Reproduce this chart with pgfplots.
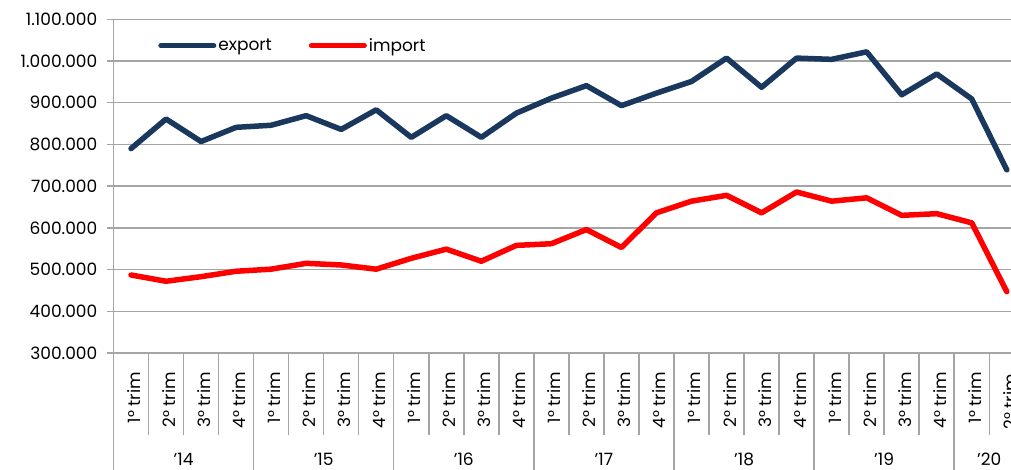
\documentclass[border=0pt]{standalone}
\usepackage{fontspec}
\setmainfont{Poppins}
\usepackage{pgfplots}
\pgfplotsset{compat=1.18}
\definecolor{exportc}{RGB}{26,56,94}
\definecolor{importc}{RGB}{255,0,0}
\definecolor{gridc}{RGB}{165,165,165}
\begin{document}
\begin{tikzpicture}[font=\fontsize{17}{20}\selectfont]
\clip (-113.5pt,-116pt) rectangle (897.5pt,353pt);
\begin{axis}[
  at={(0pt,0pt)}, anchor=south west,
  scale only axis, width=910.8pt, height=333.7pt,
  xmin=-0.5, xmax=25.5, ymin=300000, ymax=1100000,
  clip=false,
  scaled y ticks=false,
  /pgf/number format/assume math mode=true,
  axis lines*=left,
  axis line style={gridc, line width=1.5pt, -},
  ytick={300000,400000,500000,600000,700000,800000,900000,1000000,1100000},
  yticklabels={300.000,400.000,500.000,600.000,700.000,800.000,900.000,1.000.000,1.100.000},
  ymajorgrids, grid style={gridc, line width=1.5pt},
  tick align=outside, major tick length=6pt,
  ytick style={gridc, line width=1.5pt},
  xtick style={draw=none},
  tick label style={font=\fontsize{17}{20}\selectfont},
  yticklabel style={inner sep=0pt, anchor=east, xshift=-10pt},
  xtick={0,...,25},
  xticklabels={1° trim,2° trim,3° trim,4° trim,1° trim,2° trim,3° trim,4° trim,1° trim,2° trim,3° trim,4° trim,1° trim,2° trim,3° trim,4° trim,1° trim,2° trim,3° trim,4° trim,1° trim,2° trim,3° trim,4° trim,1° trim,},
  xticklabel style={yshift=-13pt, xshift=3pt, rotate=90, anchor=east, inner sep=0pt},
  legend columns=2,
  legend style={at={(axis description cs:0.049,0.921)}, anchor=west, draw=none, fill=none, inner sep=0pt,
    font=\fontsize{17}{20}\selectfont,
    /tikz/every even column/.append style={column sep=35pt}},
  legend image code/.code={\draw[#1, line width=5pt, line cap=round] (0pt,0pt) -- (53pt,0pt);},
]
\addplot[exportc, line width=5.5pt, line join=round, line cap=round] coordinates {
(0,790000) (1,861000) (2,807000) (3,841000) (4,846000) (5,869000) (6,836000) (7,883000)
(8,817000) (9,869000) (10,817000) (11,875000) (12,911000) (13,941000) (14,893000) (15,923000)
(16,951000) (17,1007000) (18,937000) (19,1007000) (20,1004000) (21,1022000) (22,919000) (23,969000)
(24,909000) (25,739000)};
\addlegendentry{export}
\addplot[importc, line width=5.5pt, line join=round, line cap=round] coordinates {
(0,487000) (1,472000) (2,483000) (3,496000) (4,501000) (5,515000) (6,511000) (7,501000)
(8,527000) (9,549000) (10,520000) (11,558000) (12,562000) (13,596000) (14,553000) (15,636000)
(16,664000) (17,678000) (18,636000) (19,686000) (20,664000) (21,672000) (22,630000) (23,634000)
(24,612000) (25,447000)};
\addlegendentry{import}
\pgfplotsinvokeforeach{0.5,1.5,2.5,4.5,5.5,6.5,8.5,9.5,10.5,12.5,13.5,14.5,16.5,17.5,18.5,20.5,21.5,22.5,24.5}{
  \draw[gridc, line width=1.5pt] (axis cs:#1,300000) -- ++(0pt,-82pt);
}
\pgfplotsinvokeforeach{-0.5,3.5,7.5,11.5,15.5,19.5,23.5}{
  \draw[gridc, line width=1.5pt] (axis cs:#1,300000) -- ++(0pt,-125pt);
}
\node at (axis cs:1.5,300000) [yshift=-106pt] {’14};
\node at (axis cs:5.5,300000) [yshift=-106pt] {’15};
\node at (axis cs:9.5,300000) [yshift=-106pt] {’16};
\node at (axis cs:13.5,300000) [yshift=-106pt] {’17};
\node at (axis cs:17.5,300000) [yshift=-106pt] {’18};
\node at (axis cs:21.5,300000) [yshift=-106pt] {’19};
\node at (axis cs:24.5,300000) [yshift=-106pt] {’20};
\node at (axis cs:25,300000) [yshift=-21pt, xshift=3pt, rotate=90, anchor=east, inner sep=0pt] {2° trim};
\end{axis}
\end{tikzpicture}
\end{document}
